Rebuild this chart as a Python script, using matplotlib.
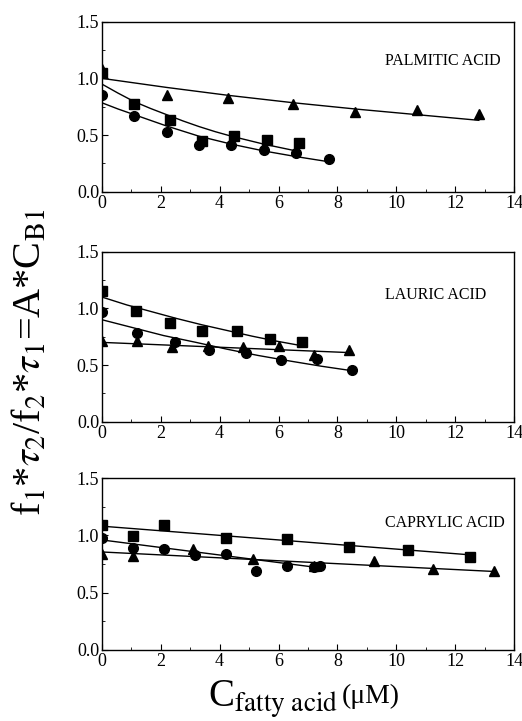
import numpy as np
import matplotlib
matplotlib.use("Agg")
import matplotlib.pyplot as plt
from matplotlib.ticker import MultipleLocator

plt.rcParams['font.family'] = ['Liberation Serif', 'DejaVu Serif']
plt.rcParams['mathtext.fontset'] = 'stix'

# ---- palmitic acid ----
pal_sq_x = [0, 1.1, 2.3, 3.4, 4.5, 5.6, 6.7]
pal_sq_y = [1.05, 0.77, 0.63, 0.45, 0.49, 0.46, 0.43]
pal_ci_x = [0, 1.1, 2.2, 3.3, 4.4, 5.5, 6.6, 7.7]
pal_ci_y = [0.85, 0.67, 0.53, 0.41, 0.41, 0.37, 0.34, 0.29]
pal_tr_x = [0, 2.2, 4.3, 6.5, 8.6, 10.7, 12.8]
pal_tr_y = [1.08, 0.85, 0.83, 0.77, 0.70, 0.72, 0.69]
pal_sq_fx = [0, 0.55, 1.1, 1.65, 2.2, 2.75, 3.3, 3.85, 4.4, 5.5, 6.6]
pal_sq_fy = [0.95, 0.87, 0.795, 0.735, 0.68, 0.625, 0.575, 0.53, 0.49, 0.42, 0.36]
pal_ci_fx = [0, 0.55, 1.1, 1.65, 2.2, 2.75, 3.3, 3.85, 4.4, 5.5, 6.6, 7.7]
pal_ci_fy = [0.785, 0.73, 0.68, 0.63, 0.58, 0.535, 0.49, 0.455, 0.42, 0.36, 0.31, 0.265]
pal_tr_fx = [0, 2.2, 4.3, 6.5, 8.6, 10.7, 12.8]
pal_tr_fy = [1.0, 0.92, 0.85, 0.785, 0.73, 0.68, 0.63]

# ---- lauric acid ----
lau_sq_x = [0, 1.15, 2.3, 3.4, 4.6, 5.7, 6.8]
lau_sq_y = [1.15, 0.98, 0.87, 0.80, 0.80, 0.73, 0.70]
lau_ci_x = [0, 1.2, 2.5, 3.65, 4.9, 6.1, 7.3, 8.5]
lau_ci_y = [0.965, 0.78, 0.70, 0.63, 0.61, 0.545, 0.55, 0.46]
lau_tr_x = [0, 1.2, 2.4, 3.6, 4.8, 6.0, 7.2, 8.4]
lau_tr_y = [0.71, 0.71, 0.66, 0.67, 0.66, 0.67, 0.59, 0.63]
lau_sq_fx = [0, 0.85, 1.7, 2.55, 3.4, 4.25, 5.1, 5.95, 6.8]
lau_sq_fy = [1.10, 1.03, 0.97, 0.91, 0.855, 0.805, 0.755, 0.71, 0.67]
lau_ci_fx = [0, 1.05, 2.1, 3.2, 4.25, 5.3, 6.4, 7.45, 8.5]
lau_ci_fy = [0.90, 0.83, 0.76, 0.70, 0.64, 0.585, 0.535, 0.49, 0.45]
lau_tr_fx = [0, 8.4]
lau_tr_fy = [0.70, 0.61]

# ---- caprylic acid ----
cap_sq_x = [0, 1.05, 2.1, 4.2, 6.3, 8.4, 10.4, 12.5]
cap_sq_y = [1.09, 0.99, 1.09, 0.98, 0.97, 0.895, 0.875, 0.81]
cap_ci_x = [0, 1.05, 2.1, 3.15, 4.2, 5.25, 6.3, 7.2, 7.4]
cap_ci_y = [0.98, 0.89, 0.88, 0.83, 0.84, 0.69, 0.73, 0.72, 0.73]
cap_tr_x = [0, 1.05, 3.1, 5.15, 7.2, 9.25, 11.25, 13.3]
cap_tr_y = [0.84, 0.82, 0.88, 0.79, 0.73, 0.775, 0.71, 0.685]
cap_sq_fx = [0, 12.5]
cap_sq_fy = [1.08, 0.83]
cap_ci_fx = [0, 7.3]
cap_ci_fy = [0.96, 0.72]
cap_tr_fx = [0, 13.3]
cap_tr_fy = [0.855, 0.685]

panels = [
    ("PALMITIC ACID", 1.15,
     (pal_sq_x, pal_sq_y, pal_sq_fx, pal_sq_fy),
     (pal_ci_x, pal_ci_y, pal_ci_fx, pal_ci_fy),
     (pal_tr_x, pal_tr_y, pal_tr_fx, pal_tr_fy)),
    ("LAURIC ACID", 1.12,
     (lau_sq_x, lau_sq_y, lau_sq_fx, lau_sq_fy),
     (lau_ci_x, lau_ci_y, lau_ci_fx, lau_ci_fy),
     (lau_tr_x, lau_tr_y, lau_tr_fx, lau_tr_fy)),
    ("CAPRYLIC ACID", 1.11,
     (cap_sq_x, cap_sq_y, cap_sq_fx, cap_sq_fy),
     (cap_ci_x, cap_ci_y, cap_ci_fx, cap_ci_fy),
     (cap_tr_x, cap_tr_y, cap_tr_fx, cap_tr_fy)),
]

boxes = [[0.195, 0.734, 0.790, 0.236],
         [0.195, 0.415, 0.790, 0.236],
         [0.195, 0.0985, 0.790, 0.2385]]

fig = plt.figure(figsize=(5.22, 7.21), dpi=100)

for box, (name, ty, sq, ci, tr) in zip(boxes, panels):
    ax = fig.add_axes(box)
    for (x, y, fx, fy), m, ms in [(sq, 's', 6.5), (ci, 'o', 7), (tr, '^', 7.5)]:
        ax.plot(fx, fy, color='black', lw=1.0)
        ax.plot(x, y, linestyle='none', marker=m, ms=ms, color='black')
    ax.text(9.6, ty, name, fontsize=11.5, va='center', ha='left')
    ax.set_xlim(0, 14)
    ax.set_ylim(0, 1.5)
    ax.xaxis.set_major_locator(MultipleLocator(2))
    ax.xaxis.set_minor_locator(MultipleLocator(1))
    ax.yaxis.set_major_locator(MultipleLocator(0.5))
    ax.yaxis.set_minor_locator(MultipleLocator(0.25))
    ax.tick_params(which='both', direction='in', labelsize=13, pad=2)
    ax.tick_params(which='major', length=4)
    ax.tick_params(which='minor', length=2.5)
    ax.yaxis.set_major_formatter(matplotlib.ticker.FormatStrFormatter('%.1f'))
    for s in ax.spines.values():
        s.set_linewidth(1.0)

fig.text(0.058, 0.497, r'f$_1$*$\tau_2$/f$_2$*$\tau_1$=A*C$_{\rm B1}$',
         rotation=90, fontsize=29, ha='center', va='center')
fig.text(0.398, 0.0194, r'C$_{\rm fatty\ acid}$', fontsize=28, ha='left', va='baseline')
fig.text(0.655, 0.025, '(μM)', fontsize=20, ha='left', va='baseline')

fig.savefig('out.png', dpi=100)
